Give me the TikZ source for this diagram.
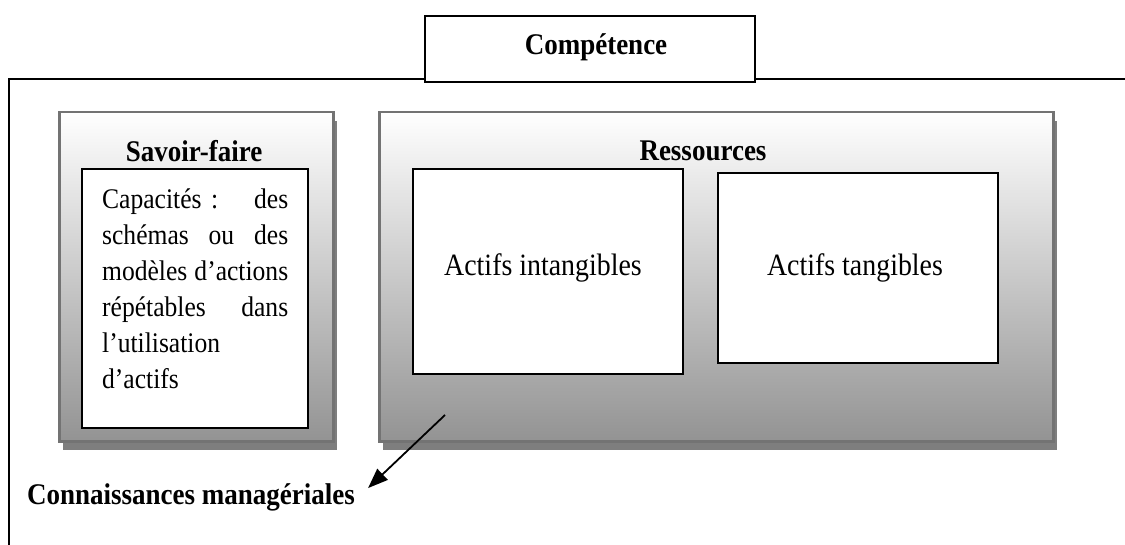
\documentclass[tikz,border=0pt]{standalone}
\usepackage{fontspec}
\setmainfont[FakeStretch=0.9]{Liberation Serif}
\usetikzlibrary{shadows,arrows.meta}
\definecolor{shadegray}{HTML}{939393}
\definecolor{bordergray}{HTML}{737373}
\definecolor{shadowgray}{HTML}{7E7E7E}
\newcommand{\fullline}[1]{\noindent\hbox to 186pt{#1}}
\tikzset{
  lbl/.style={font=\fontsize{30}{34}\selectfont\bfseries, inner sep=0pt},
  txt/.style={font=\fontsize{31}{34}\selectfont, inner sep=0pt},
  captxtstyle/.style={font=\fontsize{28.4}{36}\selectfont, inner sep=0pt},
  outerbox/.style={draw=bordergray, line width=2.5pt, top color=white, bottom color=shadegray,
    drop shadow={shadow xshift=4pt, shadow yshift=-9pt, fill=shadowgray, opacity=1},
    anchor=north west, inner sep=0pt},
  whitebox/.style={draw=black, line width=1.8pt, fill=white, anchor=north west, inner sep=0pt},
  framebox/.style={draw=black, line width=1.8pt},
  pointer/.style={draw=black, line width=1.8pt, -{Triangle[length=20pt,width=15pt]}}
}
\begin{document}
\begin{tikzpicture}[x=1pt,y=-1pt]
\useasboundingbox (0,0) rectangle (1125,545);
% frame
\coordinate (fbl) at (9,545);
\coordinate (ftl) at (9,79);
\coordinate (ftr) at (1125,79);
\draw[framebox] (fbl) -- (ftl) -- (ftr);
\node[whitebox, minimum width=330pt, minimum height=66pt] (comp) at (424,15) {};
\node[lbl] (comptxt) at (596,47) {Compétence};
% savoir-faire
\node[outerbox, minimum width=274pt, minimum height=329pt] (sf) at (58,111) {};
\node[lbl] (sftxt) at (194,151) {Savoir-faire};
\node[whitebox, minimum width=226pt, minimum height=259pt] (cap) at (81,168) {};
\node[captxtstyle, text width=186pt, align=left, anchor=base west] (captxt) at (102,209)
  {\fullline{Capacités :\hfill des}\par
   \fullline{schémas\hfill ou\hfill des}\par
   \fullline{modèles\hfill d’actions}\par
   \fullline{répétables\hfill dans}\par
   \fullline{l’utilisation\hfill}\par
   \fullline{d’actifs\hfill}};
% ressources
\node[outerbox, minimum width=674pt, minimum height=329pt] (res) at (378,111) {};
\node[lbl] (restxt) at (703,151) {Ressources};
\node[whitebox, minimum width=270pt, minimum height=205pt] (intang) at (412,168) {};
\node[txt] (intangtxt) at (543,268) {Actifs intangibles};
\node[whitebox, minimum width=280pt, minimum height=190pt] (tang) at (717,172) {};
\node[txt] (tangtxt) at (855,268) {Actifs tangibles};
% connaissances
\node[lbl] (conn) at (191,497) {Connaissances managériales};
\coordinate (arrstart) at (445,415);
\draw[pointer] (arrstart) -- ([shift={(13pt,-5pt)}]conn.north east);
\end{tikzpicture}
\end{document}
